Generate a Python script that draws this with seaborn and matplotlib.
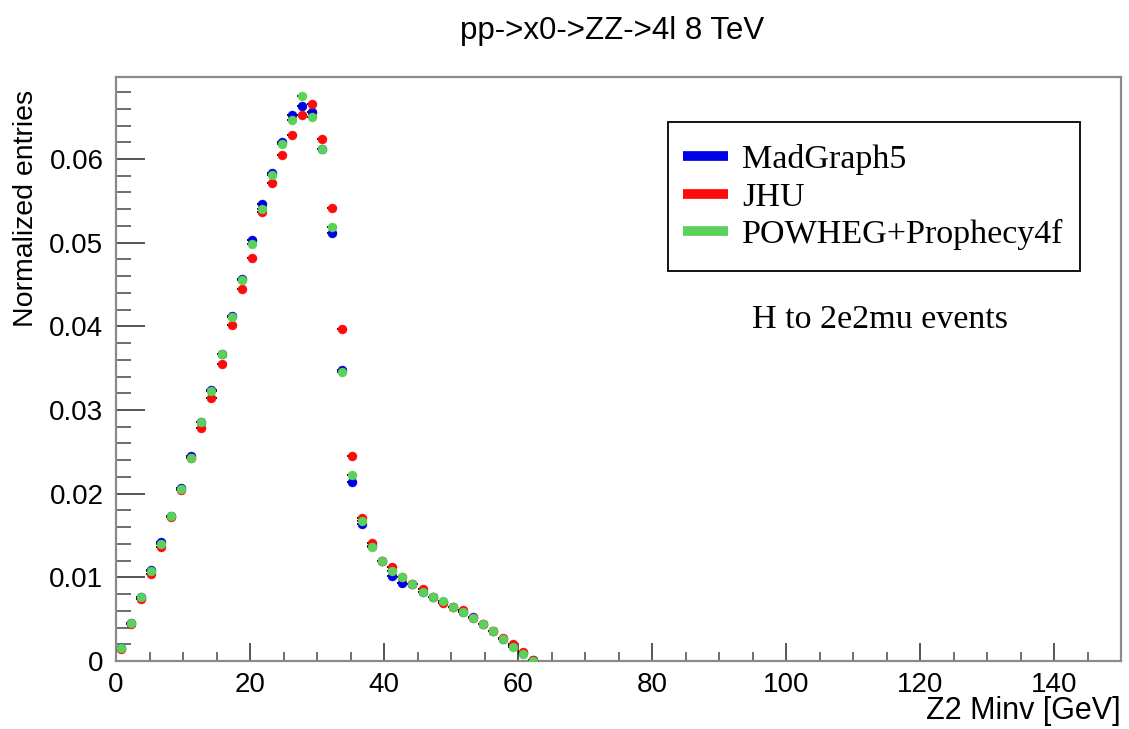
import numpy as np
import pandas as pd
import matplotlib
matplotlib.use("Agg")
import matplotlib.pyplot as plt
from matplotlib.lines import Line2D
from matplotlib.patches import Rectangle
from matplotlib.ticker import MultipleLocator, FuncFormatter
import seaborn as sns

# ---------------- data ----------------
bin_width = 1.5
bin_centers = [0.75 + bin_width * k for k in range(42)]

madgraph = [0.0016, 0.0046, 0.0076, 0.0109, 0.0142, 0.0173, 0.0207, 0.0245, 0.0286, 0.0324,
            0.0367, 0.0412, 0.0457, 0.0503, 0.0546, 0.0583, 0.0620, 0.0653, 0.0663, 0.0656,
            0.0612, 0.0512, 0.0348, 0.0214, 0.0164, 0.0137, 0.0120, 0.0102, 0.0093, 0.0092,
            0.0083, 0.0077, 0.0071, 0.0064, 0.0059, 0.0053, 0.0044, 0.0036, 0.0026, 0.0018,
            0.0009, 0.0001]
jhu = [0.0014, 0.0044, 0.0074, 0.0104, 0.0136, 0.0172, 0.0204, 0.0243, 0.0278, 0.0314,
       0.0355, 0.0402, 0.0445, 0.0482, 0.0537, 0.0571, 0.0605, 0.0629, 0.0652, 0.0666,
       0.0624, 0.0541, 0.0397, 0.0245, 0.0171, 0.0141, 0.0120, 0.0112, 0.0100, 0.0092,
       0.0086, 0.0077, 0.0069, 0.0064, 0.0061, 0.0051, 0.0044, 0.0036, 0.0027, 0.0020,
       0.0011, 0.0001]
powheg = [0.0016, 0.0046, 0.0076, 0.0108, 0.0140, 0.0173, 0.0206, 0.0243, 0.0286, 0.0323,
          0.0367, 0.0411, 0.0455, 0.0498, 0.0540, 0.0581, 0.0618, 0.0647, 0.0675, 0.0650,
          0.0612, 0.0519, 0.0346, 0.0222, 0.0167, 0.0136, 0.0120, 0.0108, 0.0100, 0.0092,
          0.0082, 0.0077, 0.0072, 0.0064, 0.0058, 0.0051, 0.0044, 0.0036, 0.0026, 0.0017,
          0.0008, 0.0000]

series_names = ["MadGraph5", "JHU", "POWHEG+Prophecy4f"]
series_values = [madgraph, jhu, powheg]
series_colors = ["#0000e6", "#ff0a0a", "#5ad25a"]

title = "pp->x0->ZZ->4l 8 TeV"
xlabel = "Z2 Minv [GeV]"
ylabel = "Normalized entries"
note = "H to 2e2mu events"
xticks = [0, 20, 40, 60, 80, 100, 120, 140]
yticks = [0, 0.01, 0.02, 0.03, 0.04, 0.05, 0.06]

# ---------------- style ----------------
sns.set_theme(style="white")
plt.rcParams["font.family"] = ["Liberation Sans", "DejaVu Sans"]
plt.rcParams["text.color"] = "black"

W, H = 1129, 729
fig = plt.figure(figsize=(W / 100, H / 100), dpi=100)
ax = fig.add_axes([116 / W, 1 - 661 / H, (1121 - 116) / W, (661 - 77) / H])

frames = []
for name, vals in zip(series_names, series_values):
    frames.append(pd.DataFrame({"x": bin_centers, "y": vals, "gen": name}))
df = pd.concat(frames, ignore_index=True)

for name, col in zip(series_names, series_colors):
    sub = df[df["gen"] == name]
    ax.errorbar(sub["x"], sub["y"], xerr=bin_width / 2, fmt="none",
                ecolor="#111111", elinewidth=1.4, capsize=0, zorder=2)
    sns.scatterplot(data=sub, x="x", y="y", color=col, marker="o", s=42,
                    edgecolor=col, linewidth=0.3, ax=ax, zorder=3, legend=False)

ax.set_xlim(0, 150)
ax.set_ylim(0, 0.0698)
ax.set_xlabel("")
ax.set_ylabel("")

ax.set_xticks(xticks)
ax.set_yticks(yticks)
ax.xaxis.set_minor_locator(MultipleLocator(5))
ax.yaxis.set_minor_locator(MultipleLocator(0.002))
ax.yaxis.set_major_formatter(FuncFormatter(lambda v, p: "0" if abs(v) < 1e-12 else f"{v:.2f}"))

ax.tick_params(axis="both", which="both", direction="in", colors="#555555",
               labelcolor="black", labelsize=20, top=False, right=False,
               bottom=True, left=True)
ax.tick_params(axis="y", which="major", length=21, width=1.4, pad=9)
ax.tick_params(axis="y", which="minor", length=11, width=1.2)
ax.tick_params(axis="x", which="major", length=13, width=1.4, pad=8)
ax.tick_params(axis="x", which="minor", length=6.5, width=1.2)

for sp in ax.spines.values():
    sp.set_color("#8a8a8a")
    sp.set_linewidth(1.6)
    sp.set_visible(True)

fig.text(612 / W, 1 - 31 / H, title, ha="center", va="center", fontsize=22.5)
fig.text(26 / W, 1 - 90 / H, ylabel, rotation=90, ha="center", va="top", fontsize=20.5)
fig.text(1121 / W, 1 - 711 / H, xlabel, ha="right", va="center", fontsize=22)

# legend frame (drawn separately for exact size)
fig.patches.append(Rectangle((668 / W, 1 - 271 / H), (1080 - 668) / W, (271 - 122) / H,
                             transform=fig.transFigure, facecolor="white",
                             edgecolor="black", linewidth=1.3, zorder=4))

handles = [Line2D([0], [0], color=c, lw=7, solid_capstyle="butt") for c in series_colors]
leg = fig.legend(handles, series_names, loc="upper left",
                 bbox_to_anchor=(668 / W, 1 - 129 / H),
                 prop={"family": "Liberation Serif", "size": 24.5},
                 frameon=False,
                 handlelength=1.3, handletextpad=0.42, labelspacing=0.19,
                 borderpad=0.45, borderaxespad=0)
leg.set_zorder(5)
for t in leg.get_texts():
    t.set_color("black")

fig.text(880 / W, 1 - 320 / H, note, ha="center", va="center",
         family="Liberation Serif", fontsize=24.5)

fig.savefig("out.png", dpi=100, facecolor="white")
